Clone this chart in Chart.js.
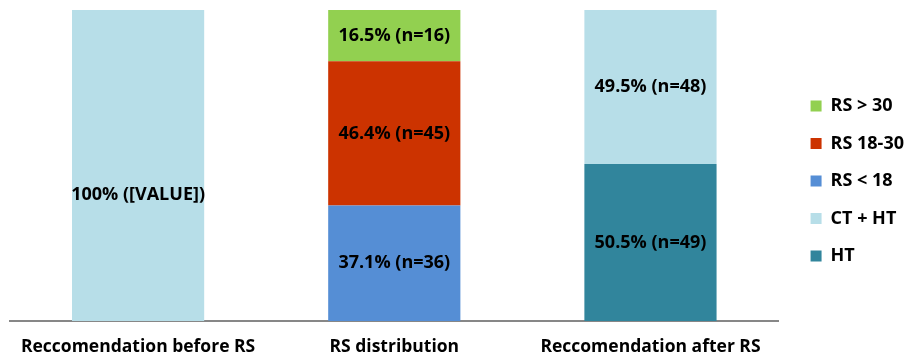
<!DOCTYPE html>
<html><head><meta charset="utf-8">
<script src="https://cdn.jsdelivr.net/npm/chart.js@4/dist/chart.umd.min.js"></script>
<style>html,body{margin:0;padding:0;background:#fff}#wrap{width:905px;height:359px;position:relative}</style>
</head><body><div id="wrap"><canvas id="c"></canvas></div>
<script>
const categories = ["Reccomendation before RS", "RS distribution", "Reccomendation after RS"];
const seriesNames = ["HT", "CT + HT", "RS < 18", "RS 18-30", "RS > 30"];
const HT = [null, null, 50.5];
const CTHT = [100, null, 49.5];
const RSlow = [null, 37.1, null];
const RSmid = [null, 46.4, null];
const RShigh = [null, 16.5, null];
const labelsHT = [null, null, "50.5% (n=49)"];
const labelsCTHT = ["100% ([VALUE])", null, "49.5% (n=48)"];
const labelsRSlow = [null, "37.1% (n=36)", null];
const labelsRSmid = [null, "46.4% (n=45)", null];
const labelsRShigh = [null, "16.5% (n=16)", null];
const colors = ["#31859C", "#B7DEE8", "#558ED5", "#CC3300", "#92D050"];
const FONT = "'Open Sans'";

const seriesValues = [HT, CTHT, RSlow, RSmid, RShigh];
const seriesLabels = [labelsHT, labelsCTHT, labelsRSlow, labelsRSmid, labelsRShigh];

const labelPlugin = {
  id: "segLabels",
  afterLayout(chart) {
    const lg = chart.legend;
    if (lg) { lg.left += 12.5; lg.right += 12.5; lg.top -= 3.5; lg.bottom -= 3.5; }
  },
  afterDatasetsDraw(chart) {
    const ctx = chart.ctx;
    ctx.save();
    ctx.font = "bold 18px " + FONT;
    ctx.fillStyle = "#000";
    ctx.textAlign = "center";
    ctx.textBaseline = "middle";
    chart.data.datasets.forEach((ds, di) => {
      const meta = chart.getDatasetMeta(di);
      meta.data.forEach((el, i) => {
        const txt = seriesLabels[di][i];
        if (!txt || ds.data[i] == null) return;
        let y = (el.y + el.base) / 2;
        if (ds.data[i] === 100) y = chart.scales.y.getPixelForValue(40.5);
        ctx.fillText(txt, el.x, y);
      });
    });
    ctx.restore();
  }
};

new Chart(document.getElementById("c"), {
  type: "bar",
  data: {
    labels: categories,
    datasets: seriesNames.map((n, i) => ({
      label: n, data: seriesValues[i], backgroundColor: colors[i],
      borderWidth: 0, categoryPercentage: 1, barPercentage: 0.516, skipNull: false
    }))
  },
  options: {
    responsive: true, maintainAspectRatio: false, animation: false,
    layout: { padding: { left: 10, top: 10, right: 3.5, bottom: 0 } },
    scales: {
      x: { stacked: true, grid: { display: false, drawTicks: false },
           border: { color: "#878787", width: 2 },
           afterFit(scale) { scale.height = 38; },
           ticks: { color: "#000", font: { family: FONT, size: 17.5, weight: "bold" }, padding: 15.5 } },
      y: { stacked: true, min: 0, max: 100, display: false }
    },
    plugins: {
      legend: { position: "right", reverse: true,
        labels: { boxWidth: 11, boxHeight: 11, padding: 19.5, color: "#000",
          font: { family: FONT, size: 18, weight: "bold" } } },
      tooltip: { enabled: false }
    }
  },
  plugins: [labelPlugin]
});
</script></body></html>
